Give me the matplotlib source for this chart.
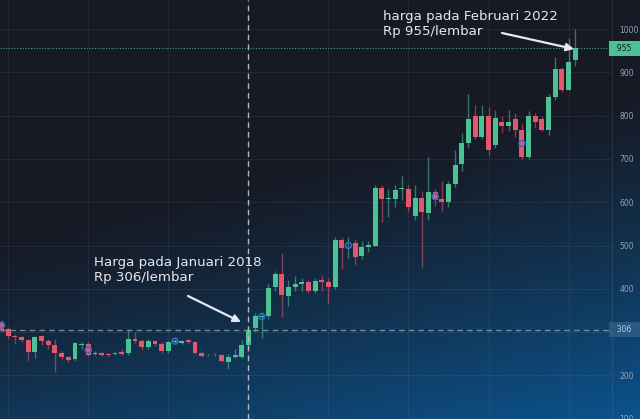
import numpy as np
import pandas as pd
import matplotlib
matplotlib.use("Agg")
import matplotlib.pyplot as plt
from matplotlib.colors import to_rgb
from matplotlib.transforms import blended_transform_factory

# ---------------- data (monthly candles, Dec 2014 .. Feb 2022) ----------------
months = pd.period_range("2014-12", "2022-02", freq="M")

opens = [320, 307, 292, 289, 282, 255, 292, 279, 270, 252, 242, 237, 271, 272, 250, 252, 249, 249, 254, 251,
         283, 279, 266, 279, 272, 256, 276, 274, 282, 277, 252, 246, 246, 247, 232, 242, 243, 270, 310, 336,
         337, 405, 434, 384, 405, 410, 415, 395, 420, 415, 405, 513, 498, 505, 476, 497, 500, 633, 608, 607,
         630, 631, 569, 609, 574, 623, 607, 601, 642, 688, 737, 798, 751, 798, 732, 786, 776, 792, 767, 704,
         798, 792, 767, 842, 908, 860, 928]
closes = [306, 291, 288, 282, 255, 289, 279, 270, 252, 242, 236, 274, 273, 247, 252, 247, 246, 251, 249, 283,
          279, 266, 279, 272, 256, 276, 279, 279, 277, 252, 245, 248, 248, 233, 243, 247, 270, 306, 337, 338,
          403, 434, 386, 405, 411, 415, 395, 418, 415, 405, 513, 494, 500, 474, 497, 501, 633, 607, 609, 628,
          632, 590, 609, 578, 623, 605, 601, 643, 686, 737, 792, 751, 798, 720, 795, 776, 786, 767, 704, 798,
          786, 767, 842, 908, 860, 923, 955]
highs = [328, 312, 296, 292, 285, 292, 294, 283, 285, 256, 245, 278, 276, 276, 256, 255, 251, 254, 262, 305,
         300, 283, 283, 282, 276, 280, 283, 281, 285, 280, 255, 250, 252, 250, 250, 262, 282, 312, 345, 347,
         410, 440, 483, 420, 430, 425, 420, 425, 432, 425, 520, 520, 520, 515, 510, 510, 640, 640, 630, 640,
         660, 640, 640, 625, 705, 630, 650, 650, 720, 760, 851, 825, 825, 820, 813, 800, 813, 805, 780, 811,
         805, 800, 850, 935, 912, 980, 1000]
lows = [300, 285, 272, 276, 234, 240, 270, 262, 208, 238, 232, 234, 262, 244, 246, 244, 243, 246, 247, 248,
        275, 258, 262, 268, 252, 252, 274, 272, 274, 250, 243, 244, 244, 231, 215, 240, 240, 262, 300, 286,
        330, 395, 335, 360, 395, 395, 390, 390, 395, 365, 400, 445, 470, 455, 468, 485, 498, 555, 565, 590,
        605, 580, 560, 451, 560, 592, 580, 590, 635, 672, 725, 745, 745, 709, 725, 760, 765, 751, 700, 700,
        772, 765, 755, 835, 855, 858, 915]

# dividend markers (candle index, price level)
div_idx = [0, 13, 26, 39, 52, 65, 78]
div_price = [316, 259, 279, 336, 500, 613, 736]

grid_values = [100, 200, 300, 400, 500, 600, 700, 800, 900, 1000]
ytick_values = [100, 200, 400, 500, 600, 700, 800, 900, 1000]
last_price = 955
jan2018_price = 306
jan2018_label = "2018-01"
note_left = "Harga pada Januari 2018\nRp 306/lembar"
note_right = "harga pada Februari 2022\nRp 955/lembar"

# ---------------- figure ----------------
W, H = 640, 419
fig = plt.figure(figsize=(W / 100, H / 100), dpi=100)

# background gradient (dark navy top-left -> blue bottom-right)
bg = fig.add_axes([0, 0, 1, 1], zorder=0)
bg.set_axis_off()
yy, xx = np.mgrid[0:1:200j, 0:1:300j]
s = yy + 0.35 * xx
t = np.clip((s - 0.57) / 0.8, 0, 1) ** 1.2
dark = np.array(to_rgb("#161a25"))
blue = np.array(to_rgb("#0b5590"))
img = dark[None, None, :] * (1 - t[..., None]) + blue[None, None, :] * t[..., None]
bg.imshow(img, aspect="auto", extent=[0, 1, 1, 0], interpolation="bilinear")
bg.set_xlim(0, 1)
bg.set_ylim(1, 0)

ax = fig.add_axes([0, 0, 612 / W, 1], zorder=1)
ax.set_facecolor("none")

n = len(opens)
x = np.arange(n)
o = np.array(opens, float)
c = np.array(closes, float)
h = np.array(highs, float)
l = np.array(lows, float)
up = c >= o

green = "#4cc194"
red = "#e3566c"
cols = np.where(up, green, red)

# grid
jan_idx = [i for i, m in enumerate(months) if m.month == 1]
for gi in jan_idx:
    ax.axvline(gi, color="white", alpha=0.06, lw=0.8, zorder=0)
for yv in grid_values:
    ax.axhline(yv, color="white", alpha=0.06, lw=0.8, zorder=0)

# wicks and bodies
ax.vlines(x, l, h, colors=cols, lw=1.0, alpha=0.55, zorder=2)
body_h = np.abs(c - o)
body_h = np.where(body_h < 2, 2, body_h)
ax.bar(x, body_h, bottom=np.minimum(o, c), width=0.74, color=cols, edgecolor="none", zorder=3)

# dividend markers
ax.scatter(div_idx, div_price, s=18, facecolors="none", edgecolors="#2f6fc6", linewidths=1.1, zorder=4)

# crosshair at Jan 2018
jan2018_idx = list(months.astype(str)).index(jan2018_label)
ax.axvline(jan2018_idx, color="#b4b8c2", lw=1.0, dashes=(4, 3), zorder=5)
ax.axhline(jan2018_price, color="#8798ab", lw=1.0, dashes=(4, 3), alpha=0.85, zorder=1)

# last price dotted line
ax.axhline(last_price, color="#3f9a86", lw=0.8, linestyle=(0, (1, 1.5)), zorder=1)

px_per = 6.67
ax.set_xlim(-1.6 / px_per, -1.6 / px_per + 612 / px_per)
ax.set_ylim((462 - 419) / 0.433, 462 / 0.433)

# right price axis
ax.yaxis.tick_right()
ax.set_yticks(ytick_values)
ax.set_yticklabels([str(v) for v in ytick_values])
ax.tick_params(axis="y", length=0, pad=5.5, labelsize=5.5, labelcolor="#94a3b8")
ax.set_xticks([])
for sp in ["top", "left", "bottom"]:
    ax.spines[sp].set_visible(False)
ax.spines["right"].set_color("#ffffff")
ax.spines["right"].set_alpha(0.08)
ax.spines["right"].set_linewidth(0.8)

ytr = blended_transform_factory(ax.transAxes, ax.transData)
ax.text(1.0, last_price, "  955  ", transform=ytr, ha="left", va="center", fontsize=5.5,
        color="#10141c", zorder=6, clip_on=False,
        bbox=dict(boxstyle="square,pad=0.45", fc="#4cc194", ec="none"))
ax.text(1.0, jan2018_price, "  306  ", transform=ytr, ha="left", va="center", fontsize=5.5,
        color="#b9cde0", zorder=6, clip_on=False,
        bbox=dict(boxstyle="square,pad=0.45", fc="#3a6a92", ec="none", alpha=0.6))

# annotations
def px2data(px, py):
    return ((px - 1.6) / px_per, (462 - py) / 0.433)

tx, ty = px2data(94, 256)
ax.text(tx, ty, note_left, ha="left", va="top", fontsize=9.6, color="#e8e8ec",
        linespacing=1.15, zorder=7, family="DejaVu Sans")
a0 = px2data(188, 296)
a1 = px2data(241, 322)
ax.annotate("", xy=a1, xytext=a0,
            arrowprops=dict(arrowstyle="-|>", color="#e8e8ee", lw=1.6, mutation_scale=11,
                            shrinkA=0, shrinkB=0), zorder=7)

tx2, ty2 = px2data(383, 10)
ax.text(tx2, ty2, note_right, ha="left", va="top", fontsize=9.6, color="#e8e8ec",
        linespacing=1.15, zorder=7, family="DejaVu Sans")
b0 = px2data(502, 33)
b1 = px2data(574, 49)
ax.annotate("", xy=b1, xytext=b0,
            arrowprops=dict(arrowstyle="-|>", color="#e8e8ee", lw=1.6, mutation_scale=11,
                            shrinkA=0, shrinkB=0), zorder=7)

fig.savefig("out.png", dpi=100)
